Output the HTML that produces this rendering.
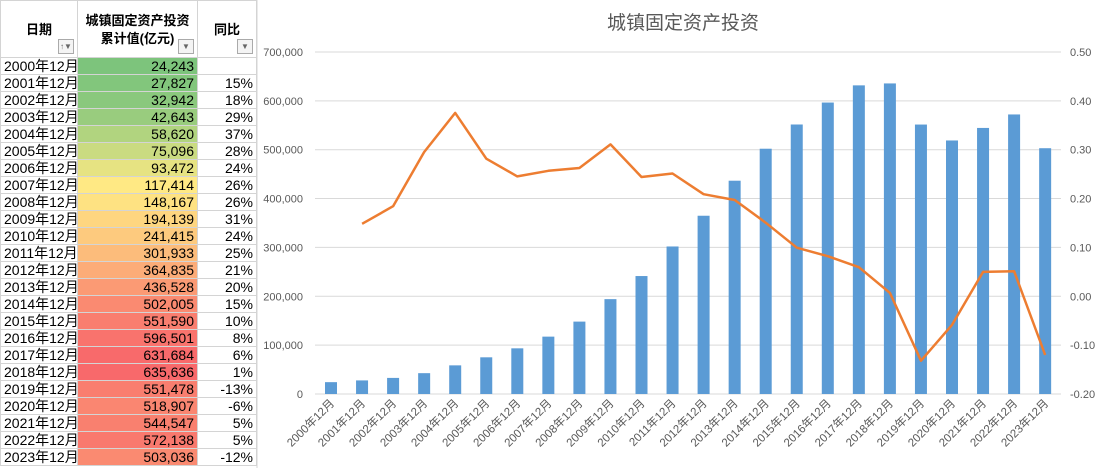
<!DOCTYPE html>
<html><head><meta charset="utf-8">
<style>
body{margin:0;width:1108px;height:468px;overflow:hidden;background:#fff;font-family:"Liberation Sans","Noto Sans CJK SC",sans-serif;position:relative}
#tbl{position:absolute;left:0;top:0;border-collapse:collapse;table-layout:fixed;width:256px}
#tbl td{border:1px solid #d4d4d4;height:16px;padding:0 3px;font-size:14px;line-height:16px;white-space:nowrap;overflow:hidden}
#tbl th{border:1px solid #d4d4d4;height:56px;font-size:13px;font-weight:bold;position:relative;padding:0;line-height:18px;vertical-align:top}
.dd{position:absolute;right:3px;bottom:3px;width:14px;height:13px;border:1px solid #aaa;background:#f4f4f4;font-size:8px;line-height:13px;color:#666;text-align:center}
svg{position:absolute;left:0;top:0}
</style></head><body>
<table id="tbl"><colgroup><col style="width:77px"><col style="width:120px"><col style="width:59px"></colgroup>
<thead><tr><th><div style="padding-top:20px">日期</div><div class="dd">↑▼</div></th><th><div style="padding-top:11px">城镇固定资产投资<br>累计值(亿元)</div><div class="dd">▼</div></th><th><div style="padding-top:20px">同比</div><div class="dd">▼</div></th></tr></thead>
<tbody id="tb"></tbody></table>
<svg id="ch" width="1108" height="468"></svg>
<script>
var v=[24243,27827,32942,42643,58620,75096,93472,117414,148167,194139,241415,301933,364835,436528,502005,551590,596501,631684,635636,551478,518907,544547,572138,503036];
var p=["","15%","18%","29%","37%","28%","24%","26%","26%","31%","24%","25%","21%","20%","15%","10%","8%","6%","1%","-13%","-6%","5%","5%","-12%"];
function mix(a,b,t){return "rgb("+a.map((x,i)=>Math.round(x+(b[i]-x)*t)).join(",")+")";}
var G=[125,196,124],Y=[255,235,132],R=[248,105,107],mn=24243,md=110000,mx=635636;
function col(x){return x<md?mix(G,Y,(x-mn)/(md-mn)):mix(Y,R,(x-md)/(mx-md));}
var h="";
for(var i=0;i<24;i++){h+="<tr><td>"+(2000+i)+"年12月</td><td style='text-align:right;background:"+col(v[i])+"'>"+v[i].toLocaleString("en-US")+"</td><td style='text-align:right'>"+p[i]+"</td></tr>";}
document.getElementById("tb").innerHTML=h;
var s="";
s+="<line x1='257' y1='0' x2='257' y2='468' stroke='#d4d4d4'/>";
s+="<text x='683' y='29' font-size='19' fill='#595959' text-anchor='middle'>城镇固定资产投资</text>";
function yL(val){return 394-val/100000*48.86;}
for(var k=0;k<=7;k++){var y=yL(k*100000);
 s+="<line x1='315' x2='1061' y1='"+y+"' y2='"+y+"' stroke='#d9d9d9'/>";
 s+="<text x='303' y='"+(y+4)+"' font-size='11' fill='#595959' text-anchor='end'>"+(k==0?"0":(k*100000).toLocaleString("en-US"))+"</text>";
 var r=(0.5-k*0.1).toFixed(2);
 s+="<text x='1070' y='"+(52+k*48.86+4)+"' font-size='11' fill='#595959'>"+r+"</text>";}
var pts=[];
for(var i=0;i<24;i++){var cx=331+i*31.05,y=yL(v[i]);
 s+="<rect x='"+(cx-6)+"' y='"+y+"' width='12' height='"+(394-y)+"' fill='#5b9bd5'/>";
 s+="<text transform='translate("+(cx+4)+",404) rotate(-45)' font-size='11.5' fill='#595959' text-anchor='end'>"+(2000+i)+"年12月</text>";
 if(i>0){var g=v[i]/v[i-1]-1;pts.push(cx.toFixed(1)+","+(296-g*488.6).toFixed(1));}}
s+="<polyline points='"+pts.join(" ")+"' fill='none' stroke='#ed7d31' stroke-width='2.5' stroke-linejoin='round'/>";
document.getElementById("ch").innerHTML=s;
</script>
</body></html>
